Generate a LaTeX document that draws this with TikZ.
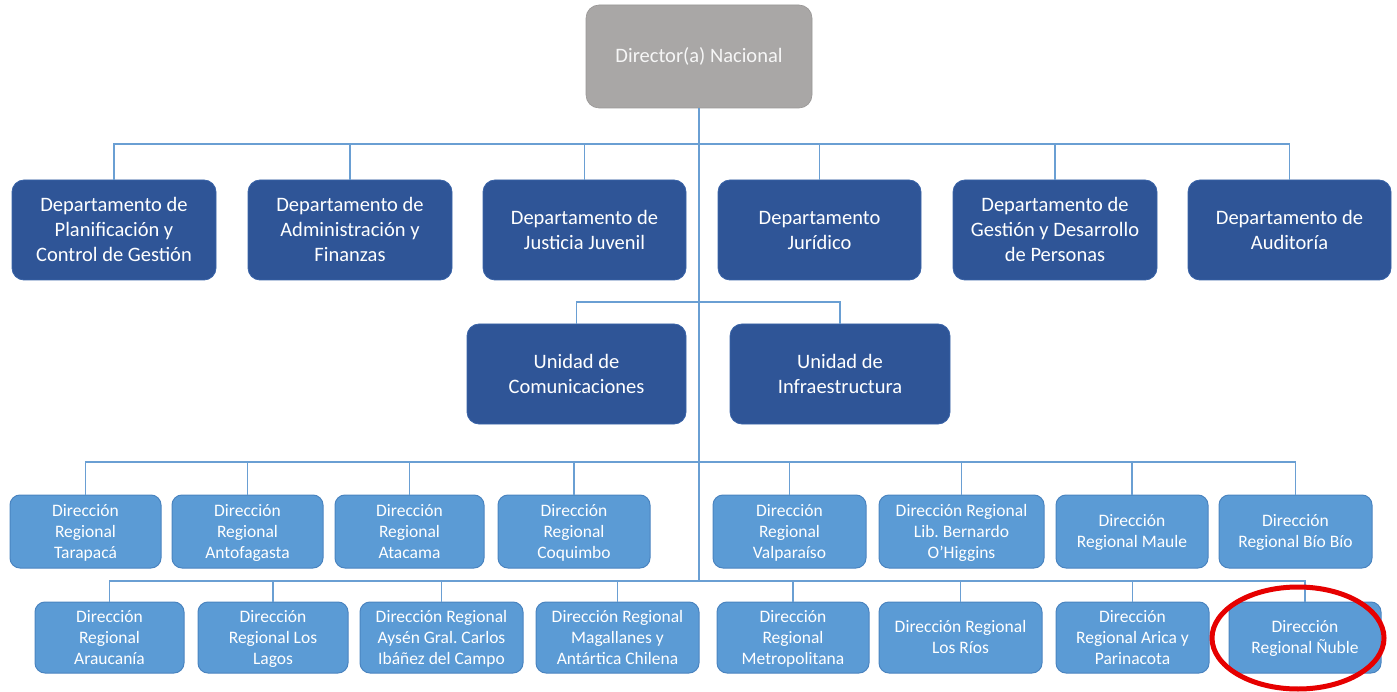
\documentclass[tikz,border=0pt]{standalone}
\usepackage{fontspec}
\setmainfont{Carlito}
\frenchspacing
\usetikzlibrary{shapes.geometric}
\definecolor{darkbox}{HTML}{2F5597}
\definecolor{darkedge}{HTML}{3A64A8}
\definecolor{lightbox}{HTML}{5B9BD5}
\definecolor{lightedge}{HTML}{4A84C0}
\definecolor{graybox}{HTML}{A9A7A6}
\definecolor{linecol}{HTML}{6A9FD3}
\definecolor{redring}{HTML}{E60000}
\newcommand\myDT{\rule{0pt}{19pt}}
\newcommand\myDB{\rule[-5pt]{0pt}{5pt}}
\newcommand\myRT{\rule{0pt}{16pt}}
\newcommand\myRB{\rule[-5pt]{0pt}{5pt}}
\tikzset{
  dirbox/.style={rectangle, rounded corners=13pt, fill=graybox, draw=graybox!90!black, line width=0.6pt,
    text=white!93!gray, align=center, inner sep=0pt, font=\fontsize{20.5}{25}\selectfont},
  deptbox/.style={rectangle, rounded corners=12pt, fill=darkbox, draw=darkedge, line width=0.8pt,
    text=white, align=center, inner sep=0pt, minimum height=100pt, font=\fontsize{20.5}{25}\selectfont},
  regbox/.style={rectangle, rounded corners=10pt, fill=lightbox, draw=lightedge, line width=1pt,
    text=white, align=center, inner sep=0pt, font=\fontsize{17.5}{21}\selectfont},
  link/.style={draw=linecol, line width=1.3pt},
  trunk/.style={draw=linecol, line width=2.8pt},
}
\begin{document}
\begin{tikzpicture}[x=1pt,y=-1pt]
\useasboundingbox (0,0) rectangle (1397,692);
% director
\node[dirbox, minimum width=226pt, minimum height=103pt] (dir) at (699,56.5) {Director(a) Nacional};
% departments
\node[deptbox, minimum width=204pt] (d1) at (114,230) {\myDT Departamento de\\Planificación y\\Control de Gestión\myDB};
\node[deptbox, minimum width=204pt] (d2) at (350,230) {\myDT Departamento de\\Administración y\\Finanzas\myDB};
\node[deptbox, minimum width=203pt] (d3) at (584.5,230) {\myDT Departamento de\\Justicia Juvenil\myDB};
\node[deptbox, minimum width=203pt] (d4) at (819.5,230) {\myDT Departamento\\Jurídico\myDB};
\node[deptbox, minimum width=204pt] (d5) at (1055,230) {\myDT Departamento de\\Gestión y Desarrollo\\de Personas\myDB};
\node[deptbox, minimum width=203pt] (d6) at (1289.5,230) {\myDT Departamento de\\Auditoría\myDB};
% units
\node[deptbox, minimum width=219pt] (u1) at (576.5,374) {\myDT Unidad de\\Comunicaciones\myDB};
\node[deptbox, minimum width=220pt] (u2) at (840,374) {\myDT Unidad de\\Infraestructura\myDB};
% regional row 1
\node[regbox, minimum width=151pt, minimum height=73pt] (r1) at (85.5,531.5) {\myRT Dirección\\Regional\\Tarapacá\myRB};
\node[regbox, minimum width=151pt, minimum height=73pt] (r2) at (247.5,531.5) {\myRT Dirección\\Regional\\Antofagasta\myRB};
\node[regbox, minimum width=149pt, minimum height=73pt] (r3) at (409.5,531.5) {\myRT Dirección\\Regional\\Atacama\myRB};
\node[regbox, minimum width=152pt, minimum height=73pt] (r4) at (574,531.5) {\myRT Dirección\\Regional\\Coquimbo\myRB};
\node[regbox, minimum width=153pt, minimum height=73pt] (r5) at (789.5,531.5) {\myRT Dirección\\Regional\\Valparaíso\myRB};
\node[regbox, minimum width=165pt, minimum height=73pt] (r6) at (961.5,531.5) {\myRT Dirección Regional\\Lib. Bernardo\\O’Higgins\myRB};
\node[regbox, minimum width=152pt, minimum height=73pt] (r7) at (1132,531.5) {\myRT Dirección\\Regional Maule\myRB};
\node[regbox, minimum width=153pt, minimum height=73pt] (r8) at (1295.5,531.5) {\myRT Dirección\\Regional Bío Bío\myRB};
% regional row 2
\node[regbox, minimum width=149pt, minimum height=71pt] (s1) at (109.5,637.5) {\myRT Dirección\\Regional\\Araucanía\myRB};
\node[regbox, minimum width=150pt, minimum height=71pt] (s2) at (273,637.5) {\myRT Dirección\\Regional Los\\Lagos\myRB};
\node[regbox, minimum width=163pt, minimum height=71pt] (s3) at (441.5,637.5) {\myRT Dirección Regional\\Aysén Gral. Carlos\\Ibáñez del Campo\myRB};
\node[regbox, minimum width=163pt, minimum height=71pt] (s4) at (617.5,637.5) {\myRT Dirección Regional\\Magallanes y\\Antártica Chilena\myRB};
\node[regbox, minimum width=152pt, minimum height=71pt] (s5) at (793,637.5) {\myRT Dirección\\Regional\\Metropolitana\myRB};
\node[regbox, minimum width=163pt, minimum height=71pt] (s6) at (960.5,637.5) {\myRT Dirección Regional\\Los Ríos\myRB};
\node[regbox, minimum width=153pt, minimum height=71pt] (s7) at (1132.5,637.5) {\myRT Dirección\\Regional Arica y\\Parinacota\myRB};
\node[regbox, minimum width=152pt, minimum height=71pt] (s8) at (1305,637.5) {\myRT Dirección\\Regional Ñuble\myRB};
% bus points on trunk
\coordinate (bd) at (699,144);
\coordinate (bu) at (699,302);
\coordinate (br) at (699,462);
\coordinate (bs) at (699,581);
% connectors
\foreach \n in {d1,d2,d3,d4,d5,d6} {\draw[link] (bd) -| (\n.north);}
\foreach \n in {u1,u2} {\draw[link] (bu) -| (\n.north);}
\foreach \n in {r1,r2,r3,r4,r5,r6,r7,r8} {\draw[link] (br) -| (\n.north);}
\foreach \n in {s1,s2,s3,s4,s5,s6,s7,s8} {\draw[link] (bs) -| (\n.north);}
\draw[trunk] (dir.south) -- (bs);
% highlight ring
\node[ellipse, draw=redring, line width=5pt, minimum width=172pt, minimum height=102pt, inner sep=0pt] (ring) at (1298,638) {};
\end{tikzpicture}
\end{document}
